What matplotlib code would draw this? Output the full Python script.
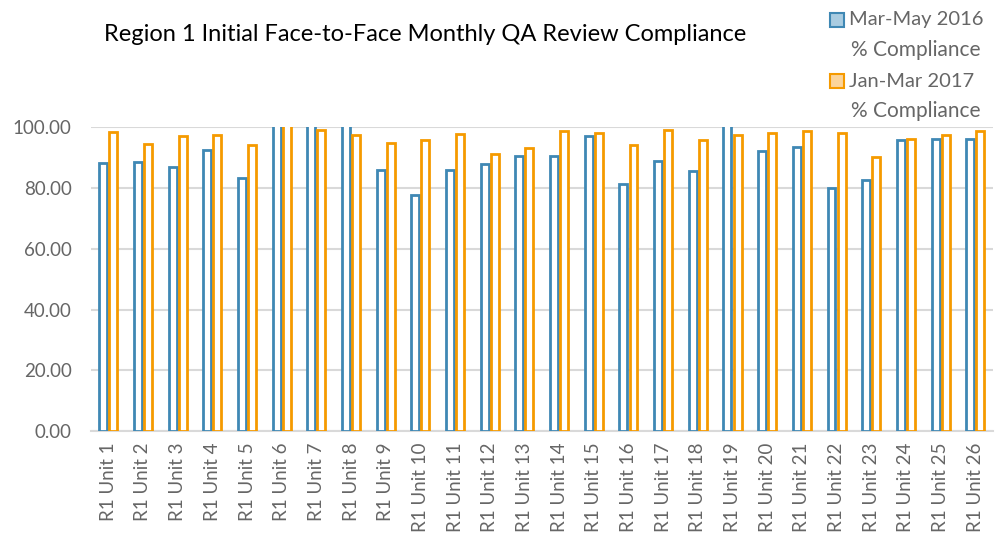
import matplotlib.pyplot as plt
import matplotlib.patches as mpatches
import numpy as np

units = ["R1 Unit %d" % i for i in range(1, 27)]

# Mar-May 2016 % compliance (units 6, 7, 8 and 19 run past the 100 line)
compliance_2016 = [88.4, 88.7, 87.0, 92.7, 83.3, 103.0, 103.0, 103.0, 86.0, 77.9,
                   85.9, 88.1, 90.5, 90.7, 97.3, 81.3, 88.9, 85.8, 103.0, 92.3,
                   93.6, 80.1, 82.6, 95.9, 96.1, 96.3]
# Jan-Mar 2017 % compliance
compliance_2017 = [98.5, 94.5, 97.3, 97.5, 94.1, 103.0, 99.1, 97.5, 95.0, 95.9,
                   97.9, 91.2, 93.2, 98.8, 98.0, 94.3, 99.2, 95.8, 97.4, 98.1,
                   98.8, 98.0, 90.1, 96.3, 97.4, 98.9]
series_labels = ["Mar-May 2016\n% Compliance", "Jan-Mar 2017\n% Compliance"]

blue = "#3F88B4"
orange = "#F59A00"
grey_text = "#666666"

plt.rcParams['font.family'] = ['Lato', 'DejaVu Sans']

fig = plt.figure(figsize=(10.03, 5.33), dpi=100)
ax = fig.add_axes([0.0907, 0.191, 0.8989, 0.570])

x = np.arange(len(units))
w = 0.23
ax.bar(x - 0.145, compliance_2016, w, facecolor="white", edgecolor=blue,
       linewidth=2, zorder=3)
ax.bar(x + 0.145, compliance_2017, w, facecolor="white", edgecolor=orange,
       linewidth=2, zorder=3)

ax.set_xlim(-0.5, len(units) - 0.5)
ax.set_ylim(0, 100)
ax.set_yticks(np.arange(0, 101, 20))
ax.set_yticklabels(["%.2f" % v for v in np.arange(0, 101, 20)])
ax.set_xticks(x)
ax.set_xticklabels(units, rotation=90)
ax.tick_params(axis="both", length=0, labelsize=13.5, colors=grey_text, pad=8)
ax.tick_params(axis="y", pad=14)
ax.grid(axis="y", color="#D9D9D9", linewidth=1.5, zorder=0)
for s in ["top", "right", "left"]:
    ax.spines[s].set_visible(False)
ax.spines["bottom"].set_color("#D9D9D9")
ax.spines["bottom"].set_linewidth(1.5)

fig.text(0.424, 0.936, "Region 1 Initial Face-to-Face Monthly QA Review Compliance",
         ha="center", va="center", fontsize=17, color="black")

# legend drawn by hand so the swatch sits beside the first line of each label
fills = ["#A9CCE1", "#FBD49B"]
edges = [blue, orange]
for i, lab in enumerate(series_labels):
    top = 1 - (13 + i * 61) / 533
    fig.patches.append(mpatches.Rectangle((830 / 1003, top - 14 / 533), 14 / 1003, 14 / 533,
                                          transform=fig.transFigure, facecolor=fills[i],
                                          edgecolor=edges[i], linewidth=1.5))
    first, second = lab.split("\n")
    fig.text(849 / 1003, 1 - (20 + i * 61) / 533, first, ha="left", va="center",
             fontsize=14.5, color=grey_text)
    fig.text(851 / 1003, 1 - (50 + i * 61) / 533, second, ha="left", va="center",
             fontsize=15, color=grey_text)

fig.savefig("out.png", dpi=100)
